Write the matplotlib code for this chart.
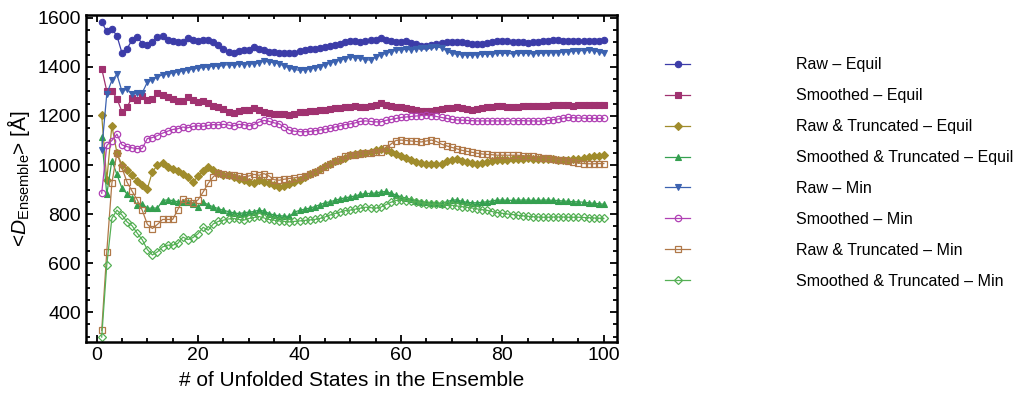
import numpy as np
import matplotlib.pyplot as plt
from matplotlib.ticker import MultipleLocator

plt.rcParams['font.family'] = ['Liberation Sans', 'DejaVu Sans']
plt.rcParams['mathtext.fontset'] = 'custom'
plt.rcParams['mathtext.rm'] = 'Liberation Sans'
plt.rcParams['mathtext.it'] = 'Liberation Sans:italic'

n_states = np.arange(1, 101)

raw_equil = [
    1583, 1545, 1555, 1527, 1457, 1475, 1510, 1522, 1495, 1490,
    1500, 1522, 1525, 1510, 1505, 1502, 1500, 1518, 1512, 1505,
    1510, 1508, 1500, 1490, 1475, 1462, 1456, 1465, 1468, 1470,
    1480, 1475, 1468, 1462, 1460, 1458, 1456, 1455, 1458, 1466,
    1470, 1472, 1475, 1478, 1482, 1484, 1488, 1494, 1500, 1505,
    1505, 1502, 1504, 1508, 1512, 1518, 1510, 1505, 1500, 1502,
    1505, 1498, 1492, 1486, 1484, 1488, 1492, 1496, 1500, 1502,
    1503, 1500, 1496, 1494, 1492, 1494, 1498, 1502, 1505, 1506,
    1505, 1503, 1502, 1500, 1498, 1500, 1502, 1505, 1507, 1509,
    1508, 1506, 1505, 1505, 1506, 1505, 1505, 1506, 1507, 1508]

smoothed_equil = [
    1393, 1302, 1302, 1271, 1217, 1237, 1275, 1267, 1280, 1267,
    1268, 1294, 1286, 1278, 1268, 1262, 1261, 1278, 1266, 1258,
    1262, 1251, 1240, 1238, 1230, 1218, 1213, 1220, 1223, 1225,
    1234, 1224, 1217, 1214, 1210, 1210, 1208, 1203, 1210, 1216,
    1217, 1220, 1222, 1223, 1226, 1230, 1233, 1234, 1236, 1238,
    1240, 1238, 1236, 1240, 1246, 1253, 1246, 1242, 1238, 1236,
    1234, 1230, 1226, 1222, 1220, 1222, 1226, 1230, 1234, 1234,
    1236, 1234, 1228, 1226, 1230, 1234, 1236, 1238, 1240, 1240,
    1238, 1236, 1238, 1240, 1241, 1240, 1240, 1241, 1242, 1243,
    1244, 1244, 1243, 1242, 1243, 1244, 1245, 1245, 1244, 1245]

raw_trunc_equil = [
    1203, 938, 1160, 1050, 1000, 980, 958, 935, 917, 904,
    972, 1000, 1008, 992, 985, 975, 965, 950, 930, 955,
    975, 990, 978, 968, 960, 958, 950, 945, 938, 932,
    928, 940, 930, 925, 920, 912, 915, 922, 930, 940,
    952, 962, 972, 984, 995, 1005, 1015, 1022, 1030, 1040,
    1045, 1048, 1050, 1055, 1060, 1066, 1062, 1055, 1045, 1035,
    1028, 1020, 1014, 1010, 1006, 1005, 1004, 1006, 1015, 1022,
    1024, 1018, 1012, 1008, 1006, 1010, 1014, 1018, 1020, 1020,
    1022, 1024, 1025, 1026, 1027, 1026, 1026, 1025, 1024, 1023,
    1022, 1022, 1022, 1024, 1026, 1028, 1032, 1035, 1038, 1040]

smoothed_trunc_equil = [
    1115, 880, 1018, 962, 905, 882, 865, 838, 842, 823,
    825, 824, 855, 858, 855, 850, 850, 848, 843, 830,
    848, 838, 829, 822, 815, 810, 805, 802, 805, 808,
    810, 816, 812, 802, 796, 793, 792, 790, 808, 815,
    820, 824, 830, 838, 846, 850, 856, 862, 866, 870,
    874, 880, 884, 884, 886, 890, 892, 885, 878, 870,
    865, 860, 855, 850, 848, 846, 844, 843, 850, 856,
    858, 852, 848, 846, 846, 848, 850, 854, 857, 857,
    856, 856, 857, 857, 857, 856, 856, 857, 857, 856,
    855, 853, 852, 850, 850, 848, 846, 844, 842, 840]

raw_min = [
    1060, 1290, 1345, 1370, 1300, 1310, 1288, 1292, 1295, 1338,
    1348, 1360, 1368, 1372, 1376, 1380, 1384, 1388, 1392, 1395,
    1398, 1400, 1404, 1402, 1407, 1410, 1406, 1412, 1410, 1414,
    1412, 1416, 1424, 1420, 1418, 1412, 1405, 1395, 1390, 1386,
    1388, 1392, 1396, 1400, 1408, 1416, 1422, 1428, 1434, 1440,
    1438, 1435, 1430, 1428, 1440, 1448, 1455, 1462, 1468, 1470,
    1472, 1470, 1474, 1476, 1478, 1480, 1482, 1478, 1466, 1455,
    1452, 1450, 1448, 1448, 1450, 1452, 1451, 1453, 1455, 1456,
    1455, 1454, 1455, 1456, 1455, 1454, 1455, 1456, 1458, 1458,
    1459, 1460, 1462, 1464, 1466, 1467, 1468, 1466, 1462, 1455]

smoothed_min = [
    885, 1080, 1100, 1126, 1082, 1075, 1070, 1067, 1068, 1108,
    1112, 1120, 1130, 1138, 1145, 1148, 1155, 1152, 1158, 1160,
    1158, 1162, 1165, 1164, 1166, 1163, 1160, 1166, 1165, 1160,
    1165, 1175, 1182, 1178, 1172, 1168, 1155, 1142, 1138, 1136,
    1136, 1137, 1140, 1143, 1146, 1150, 1155, 1160, 1165, 1168,
    1172, 1178, 1180, 1178, 1176, 1176, 1182, 1186, 1190, 1194,
    1196, 1198, 1200, 1202, 1203, 1202, 1198, 1194, 1190, 1186,
    1184, 1183, 1182, 1181, 1180, 1180, 1180, 1180, 1180, 1180,
    1180, 1180, 1181, 1181, 1180, 1180, 1179, 1180, 1182, 1185,
    1188, 1191, 1194, 1193, 1192, 1191, 1190, 1190, 1190, 1190]

raw_trunc_min = [
    325, 646, 925, 1050, 988, 930, 893, 858, 815, 758,
    741, 758, 778, 778, 778, 818, 860, 852, 845, 858,
    890, 925, 952, 968, 962, 960, 958, 955, 952, 955,
    962, 958, 965, 955, 940, 938, 942, 945, 948, 950,
    955, 962, 970, 978, 990, 1005, 1015, 1025, 1035, 1040,
    1042, 1045, 1048, 1050, 1052, 1055, 1068, 1085, 1100, 1102,
    1100, 1098, 1096, 1094, 1098, 1102, 1096, 1085, 1078, 1072,
    1066, 1060, 1056, 1052, 1048, 1045, 1043, 1042, 1040, 1040,
    1040, 1040, 1040, 1038, 1036, 1035, 1033, 1030, 1028, 1025,
    1022, 1020, 1016, 1012, 1008, 1006, 1005, 1005, 1006, 1006]

smoothed_trunc_min = [
    298, 592, 782, 816, 796, 768, 752, 722, 695, 655,
    633, 646, 666, 673, 673, 680, 706, 696, 704, 720,
    746, 734, 760, 770, 775, 780, 782, 778, 775, 782,
    786, 790, 784, 778, 775, 772, 770, 768, 770, 772,
    774, 776, 778, 782, 788, 796, 802, 808, 814, 816,
    820, 824, 828, 826, 824, 828, 838, 848, 855, 858,
    855, 852, 850, 846, 842, 840, 840, 840, 838, 836,
    833, 830, 828, 825, 821, 818, 815, 810, 806, 803,
    800, 798, 795, 793, 791, 789, 788, 787, 787, 788,
    788, 788, 787, 787, 787, 786, 785, 784, 783, 782]

series = [
    ('Raw – Equil', raw_equil, '#3c3ca8', 'o', True),
    ('Smoothed – Equil', smoothed_equil, '#a03270', 's', True),
    ('Raw & Truncated – Equil', raw_trunc_equil, '#a08c2c', 'D', True),
    ('Smoothed & Truncated – Equil', smoothed_trunc_equil, '#35a050', '^', True),
    ('Raw – Min', raw_min, '#3c62b0', 'v', True),
    ('Smoothed – Min', smoothed_min, '#b040b4', 'o', False),
    ('Raw & Truncated – Min', raw_trunc_min, '#b07848', 's', False),
    ('Smoothed & Truncated – Min', smoothed_trunc_min, '#55b055', 'D', False),
]

fig = plt.figure(figsize=(10.26, 4), dpi=100)
ax = fig.add_axes([0.0838, 0.145, 0.5176, 0.8175])

for label, vals, col, mk, filled in series:
    ms = 4.0 if mk == 'D' else 4.6
    ax.plot(n_states, vals, color=col, lw=0.9, marker=mk, ms=ms,
            markerfacecolor=col if filled else 'none',
            markeredgecolor=col, markeredgewidth=0.8 if filled else 0.9,
            label=label)

ax.set_xlim(-2.1, 102.6)
ax.set_ylim(278, 1612)
ax.xaxis.set_major_locator(MultipleLocator(20))
ax.xaxis.set_minor_locator(MultipleLocator(5))
ax.yaxis.set_major_locator(MultipleLocator(200))
ax.yaxis.set_minor_locator(MultipleLocator(50))
ax.tick_params(which='both', direction='in', top=True, right=True,
               labelsize=14, width=1.3)
ax.tick_params(which='major', length=5)
ax.tick_params(which='minor', length=3)
for sp in ax.spines.values():
    sp.set_linewidth(1.8)

ax.set_xlabel('# of Unfolded States in the Ensemble', fontsize=15, labelpad=5)
ax.set_ylabel(r'<$D_{\mathrm{Ensemble}}$> [Å]', fontsize=15, labelpad=4)

leg = ax.legend(loc='upper left', bbox_to_anchor=(0.634, 0.893),
                bbox_transform=fig.transFigure, frameon=False, fontsize=11.5,
                handlelength=1.6, handletextpad=6.6, labelspacing=1.0)

fig.savefig('out.png', dpi=100)
